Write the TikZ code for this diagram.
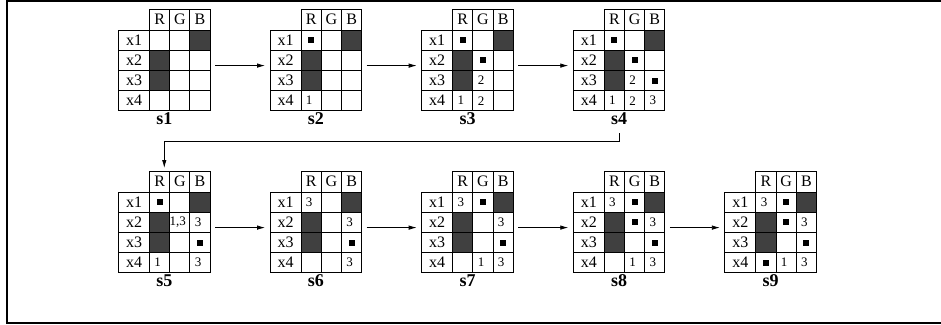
\documentclass[tikz,border=0pt]{standalone}
\usepackage{fontspec}
\setmainfont{Liberation Serif}
\usetikzlibrary{arrows.meta}
\definecolor{cellgray}{HTML}{404040}
\tikzset{
  gridline/.style={draw=black, line width=1pt},
  cellbox/.style={gridline, minimum width=20.2pt, minimum height=20.2pt, inner sep=0pt, outer sep=0pt, font=\fontsize{16}{16}\selectfont},
  hdrbox/.style={cellbox, minimum height=21pt},
  labbox/.style={cellbox, minimum width=31pt},
  mk/.style={fill=black, minimum size=6pt, inner sep=0pt},
  num/.style={inner sep=0pt, xshift=-2pt, font=\fontsize{13}{13}\selectfont},
  slab/.style={inner sep=0pt, font=\bfseries\fontsize{18}{18}\selectfont},
  arr/.style={line width=0.8pt, -{Latex[length=8pt,width=4.5pt]}},
  frame/.style={line width=1.8pt}
}
\newcommand\stategrid[3]{%
  \begin{scope}[shift={(#2,#3)}]
    \foreach \c/\t in {1/R,2/G,3/B}
      \node[hdrbox] (#1-h\c) at ({31+20.2*(\c-0.5)},10.5) {\t};
    \foreach \r in {1,2,3,4} {
      \node[labbox] (#1-x\r) at (15.5,{21+20.2*(\r-0.5)}) {x\r};
      \foreach \c in {1,2,3}
        \node[cellbox] (#1-\r\c) at ({31+20.2*(\c-0.5)},{21+20.2*(\r-0.5)}) {};
    }
    \foreach \p in {13,21,31}
      \filldraw[gridline, fill=cellgray] (#1-\p.south west) rectangle (#1-\p.north east);
    \node[slab] (#1) at (45.8,110) {#1};
  \end{scope}}
\newcommand\putmarks[2]{\foreach \p in {#2} \node[mk] at (#1-\p) {};}
\newcommand\putnums[2]{\foreach \p/\t in {#2} \node[num] at (#1-\p) {\t};}
\begin{document}
\begin{tikzpicture}[x=1pt,y=-1pt]
\useasboundingbox (0,0) rectangle (941,324);
\draw[frame] (960,0.9) -- (6.8,0.9) -- (6.8,322.9) -- (960,322.9);
% top row
\stategrid{s1}{118.5}{9}
\stategrid{s2}{270.1}{9}
\stategrid{s3}{421.7}{9}
\stategrid{s4}{573.3}{9}
% bottom row
\stategrid{s5}{118.5}{171}
\stategrid{s6}{270.1}{171}
\stategrid{s7}{421.7}{171}
\stategrid{s8}{573.3}{171}
\stategrid{s9}{724.9}{171}
% contents
\putmarks{s2}{11}
\putnums{s2}{41/1}
\putmarks{s3}{11,22}
\putnums{s3}{32/2,41/1,42/2}
\putmarks{s4}{11,22,33}
\putnums{s4}{32/2,41/1,42/2,43/3}
\putmarks{s5}{11,33}
\putnums{s5}{22/{1,3},23/3,41/1,43/3}
\putmarks{s6}{33}
\putnums{s6}{11/3,23/3,43/3}
\putmarks{s7}{12,33}
\putnums{s7}{11/3,23/3,42/1,43/3}
\putmarks{s8}{12,22,33}
\putnums{s8}{11/3,23/3,42/1,43/3}
\putmarks{s9}{12,22,33,41}
\putnums{s9}{11/3,23/3,42/1,43/3}
% arrows
\foreach \a/\b in {s1/s2,s2/s3,s3/s4,s5/s6,s6/s7,s7/s8,s8/s9}
  \draw[arr] ([shift={(5pt,-5.3pt)}]\a-23.east) -- ([shift={(-5pt,-5.3pt)}]\b-x2.west);
\coordinate (turn) at (0,141.7);
\path (s5-h1.north -| s5.south) ++(0,-3) coordinate (s5in);
\draw[arr] ([yshift=-8pt]s4.south) -- (s4.south |- turn) -| (s5in);
\end{tikzpicture}
\end{document}
